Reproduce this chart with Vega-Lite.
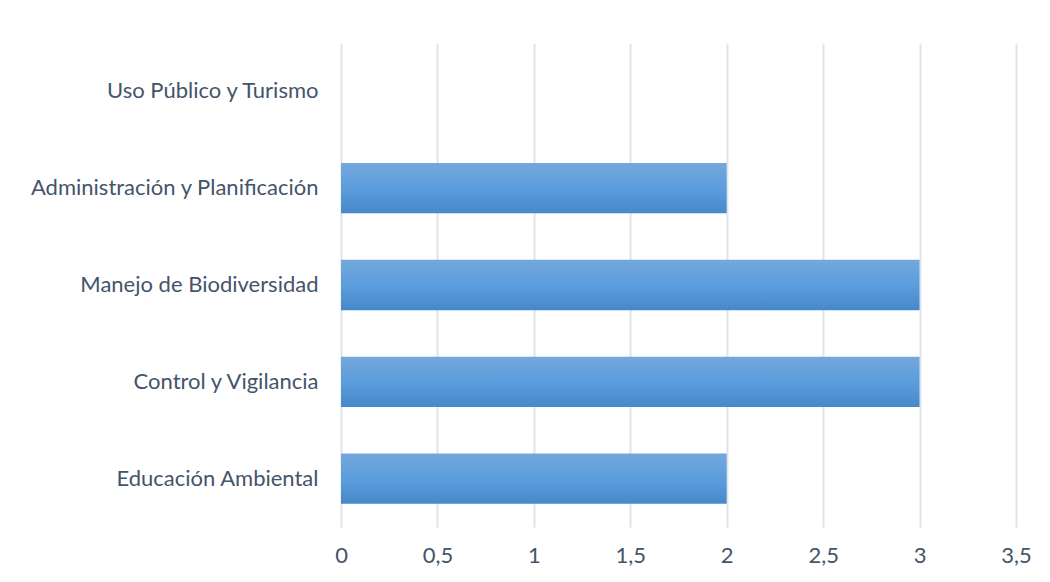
{
  "$schema": "https://vega.github.io/schema/vega-lite/v6.json",
  "width": 675,
  "height": 484,
  "autosize": {"type": "none"},
  "padding": {"left": 341, "top": 43, "right": 34, "bottom": 55},
  "background": "white",
  "data": {
    "values": [
      {"area": "Uso Público y Turismo", "valor": 0},
      {"area": "Administración y Planificación", "valor": 2},
      {"area": "Manejo de Biodiversidad\u2007", "valor": 3},
      {"area": "Control y Vigilancia", "valor": 3},
      {"area": "Educación Ambiental\u2007", "valor": 2}
    ]
  },
  "mark": {
    "type": "bar",
    "fill": {
      "gradient": "linear",
      "x1": 0, "y1": 0, "x2": 0, "y2": 1,
      "stops": [
        {"offset": 0, "color": "#74a8dc"},
        {"offset": 0.5, "color": "#5b9ddd"},
        {"offset": 1, "color": "#4688c8"}
      ]
    }
  },
  "encoding": {
    "y": {
      "field": "area",
      "type": "nominal",
      "sort": null,
      "title": null,
      "scale": {"paddingInner": 0.48, "paddingOuter": 0.24},
      "axis": {
        "domain": false,
        "ticks": false,
        "grid": false,
        "labelPadding": 23,
        "labelLimit": 400
      }
    },
    "x": {
      "field": "valor",
      "type": "quantitative",
      "title": null,
      "scale": {"domain": [0, 3.5], "nice": false},
      "axis": {
        "values": [0, 0.5, 1, 1.5, 2, 2.5, 3, 3.5],
        "labelExpr": "replace(format(datum.value, '~g'), '.', ',')",
        "domain": false,
        "ticks": false,
        "grid": true,
        "gridColor": "#dfe3ea",
        "gridWidth": 2,
        "labelPadding": 18,
        "labelFlush": false
      }
    }
  },
  "config": {
    "view": {"stroke": null},
    "font": "Lato",
    "axis": {
      "labelFont": "Lato",
      "labelFontSize": 22,
      "labelColor": "#44546a"
    }
  }
}
